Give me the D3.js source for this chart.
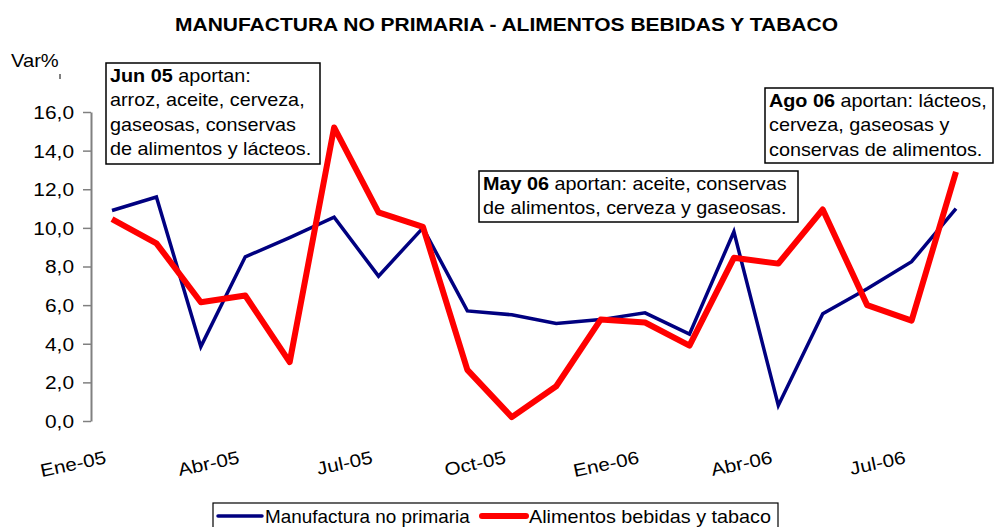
<!DOCTYPE html>
<html>
<head>
<meta charset="utf-8">
<script src="https://cdn.jsdelivr.net/npm/d3@7"></script>
<style>
  body { margin: 0; background: #fff; }
  text { font-family: "Liberation Sans", Arial, sans-serif; fill: #000; }
</style>
</head>
<body>
<div id="chart"></div>
<script>
// months on the category axis
const months = ["Ene-05","Feb-05","Mar-05","Abr-05","May-05","Jun-05","Jul-05","Ago-05","Set-05","Oct-05",
                "Nov-05","Dic-05","Ene-06","Feb-06","Mar-06","Abr-06","May-06","Jun-06","Jul-06","Ago-06"];
const monthLabels = ["Ene-05","Abr-05","Jul-05","Oct-05","Ene-06","Abr-06","Jul-06"];
const yTicks = [0, 2, 4, 6, 8, 10, 12, 14, 16];

const manufactura = [10.9, 11.6, 3.85, 8.5, 9.5, 10.55, 7.5, 10.0, 5.7, 5.5,
                     5.05, 5.25, 5.6, 4.5, 9.8, 0.8, 5.55, 6.85, 8.25, 11.0];
const alimentos = [10.45, 9.2, 6.15, 6.5, 3.05, 15.2, 10.8, 10.05, 2.65, 0.2,
                   1.8, 5.25, 5.1, 3.9, 8.45, 8.15, 10.95, 6.0, 5.2, 12.9];

const seriesNames = ["Manufactura no primaria", "Alimentos bebidas y tabaco"];

const width = 994;
const height = 527;

// the original text is a bit wider than Arial, so stretch it horizontally
function stretchText(sel, sx) {
    sel.each(function() {
        const t = d3.select(this);
        const x = +t.attr("x") || 0;
        const y = +t.attr("y") || 0;
        const prev = t.attr("transform") || "";
        t.attr("transform", `${prev} translate(${x},${y}) scale(${sx},1) translate(${-x},${-y})`);
    });
}

const svg = d3.select("#chart")
    .append("svg")
        .attr("width", width)
        .attr("height", height);

const xScale = d3.scalePoint()
    .domain(months)
    .range([112, 956]);

const yScale = d3.scaleLinear()
    .domain([0, 16])
    .range([421, 112]);

// title
svg.append("text")
    .attr("x", 506.5)
    .attr("y", 31)
    .attr("text-anchor", "middle")
    .attr("textLength", 663)
    .attr("lengthAdjust", "spacingAndGlyphs")
    .style("font-weight", "bold")
    .style("font-size", "18.5px")
    .text("MANUFACTURA NO PRIMARIA - ALIMENTOS BEBIDAS Y TABACO");

// y axis title
svg.append("text")
    .attr("x", 11)
    .attr("y", 67)
    .style("font-size", "18px")
    .text("Var%")
    .call(stretchText, 1.12);
svg.append("line")
    .attr("x1", 60).attr("x2", 60)
    .attr("y1", 74).attr("y2", 79)
    .attr("stroke", "#000");

// y axis
const yAxis = svg.append("g")
    .attr("transform", "translate(91,0)")
    .call(d3.axisLeft(yScale)
        .tickValues(yTicks)
        .tickSize(8)
        .tickSizeOuter(0)
        .tickPadding(9)
        .tickFormat(d => d3.format(".1f")(d).replace(".", ",")));
yAxis.select(".domain").attr("stroke", "#808080").attr("stroke-width", 2);
yAxis.selectAll(".tick line").attr("stroke", "#808080").attr("stroke-width", 1.5);
yAxis.selectAll(".tick text")
    .style("font-size", "18px")
    .style("font-family", "'Liberation Sans', Arial, sans-serif")
    .attr("fill", "#000")
    .attr("dy", "0.36em")
    .call(stretchText, 1.16);

// x axis labels (every 3 months, rotated)
const xAxis = svg.append("g")
    .attr("transform", "translate(0,421)")
    .call(d3.axisBottom(xScale).tickValues(monthLabels).tickSize(0));
xAxis.select(".domain").remove();
xAxis.selectAll(".tick text")
    .style("font-size", "18px")
    .style("font-family", "'Liberation Sans', Arial, sans-serif")
    .attr("fill", "#000")
    .attr("text-anchor", "end")
    .attr("x", -5)
    .attr("y", 0)
    .attr("dy", 0)
    .attr("transform", "translate(0,41) rotate(-12) scale(1.15,1)");

// lines
const line = d3.line()
    .x((d, i) => xScale(months[i]))
    .y(d => yScale(d));

svg.append("path")
    .datum(manufactura)
    .attr("fill", "none")
    .attr("stroke", "#000080")
    .attr("stroke-width", 3.5)
    .attr("stroke-linejoin", "miter")
    .attr("d", line);

svg.append("path")
    .datum(alimentos)
    .attr("fill", "none")
    .attr("stroke", "#ff0000")
    .attr("stroke-width", 6)
    .attr("stroke-linejoin", "round")
    .attr("d", line);

// annotation boxes
function noteBox(x, y, w, h, lines) {
    const g = svg.append("g").attr("transform", `translate(${x},${y})`);
    g.append("rect")
        .attr("width", w)
        .attr("height", h)
        .attr("fill", "#fff")
        .attr("stroke", "#000")
        .attr("stroke-width", 1.5);
    lines.forEach((ln, i) => {
        const t = g.append("text")
            .attr("x", 4)
            .attr("y", 19 + i * 24.3)
            .style("font-size", "18px");
        if (ln.bold) {
            t.append("tspan").style("font-weight", "bold").text(ln.bold);
        }
        t.append("tspan").text(ln.text);
        stretchText(t, 1.1);
    });
}

noteBox(106, 63, 214, 101, [
    {bold: "Jun 05", text: " aportan:"},
    {text: "arroz, aceite, cerveza,"},
    {text: "gaseosas, conservas"},
    {text: "de alimentos y lácteos."}
]);

noteBox(479, 171, 319, 51, [
    {bold: "May 06", text: " aportan: aceite, conservas"},
    {text: "de alimentos, cerveza y gaseosas."}
]);

noteBox(765, 88, 228, 75, [
    {bold: "Ago 06", text: " aportan: lácteos,"},
    {text: "cerveza, gaseosas y"},
    {text: "conservas de alimentos."}
]);

// legend
const legend = svg.append("g").attr("transform", "translate(213,503)");
legend.append("rect")
    .attr("width", 565)
    .attr("height", 30)
    .attr("fill", "#fff")
    .attr("stroke", "#000")
    .attr("stroke-width", 1.2);

const legendItems = [
    {name: seriesNames[0], color: "#000080", sw: 3.5, x: 5, sx: 1.05},
    {name: seriesNames[1], color: "#ff0000", sw: 6, x: 269, sx: 1.1}
];
legendItems.forEach(item => {
    legend.append("line")
        .attr("x1", item.x).attr("x2", item.x + 44)
        .attr("y1", 13).attr("y2", 13)
        .attr("stroke", item.color)
        .attr("stroke-width", item.sw)
        .attr("stroke-linecap", "round");
    legend.append("text")
        .attr("x", item.x + 47)
        .attr("y", 20)
        .style("font-size", "18px")
        .text(item.name)
        .call(stretchText, item.sx);
});
</script>
</body>
</html>
